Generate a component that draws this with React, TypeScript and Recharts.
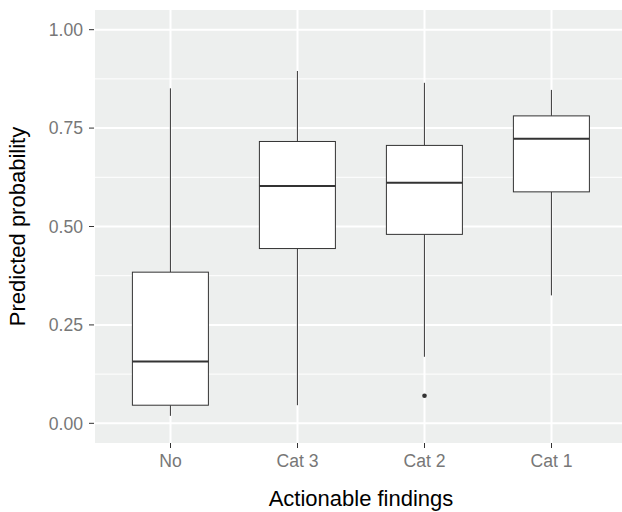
import React from 'react';
import { ComposedChart, Bar, Scatter, XAxis, YAxis, CartesianGrid } from 'recharts';

// box stats
const categories = ['No', 'Cat 3', 'Cat 2', 'Cat 1'];
const whiskerLow = [0.019, 0.046, 0.169, 0.325];
const lowerQuartile = [0.046, 0.444, 0.48, 0.588];
const medians = [0.157, 0.603, 0.611, 0.723];
const upperQuartile = [0.384, 0.716, 0.706, 0.781];
const whiskerHigh = [0.851, 0.895, 0.865, 0.847];
const outlierValues: (number | null)[] = [null, null, 0.07, null];

const yTicks = [0, 0.25, 0.5, 0.75, 1];
const yMinor = [0.125, 0.375, 0.625, 0.875];

const data = categories.map((cat, i) => ({
  cat,
  low: whiskerLow[i],
  q1: lowerQuartile[i],
  med: medians[i],
  q3: upperQuartile[i],
  high: whiskerHigh[i],
  outlier: outlierValues[i],
}));

const FONT = '"Liberation Sans", Arial, Helvetica, sans-serif';
const INK = '#333333';

const BoxShape = (props: any) => {
  const { x, y, width, height, payload } = props;
  if (x == null || y == null) return null;
  const top = Math.min(y, y + height);
  const bottom = Math.max(y, y + height);
  const span = payload.high - payload.low;
  // map a value into pixels using the range the bar was given by the y scale
  const py = (v: number) => bottom - ((v - payload.low) / span) * (bottom - top);
  const cx = x + width / 2;
  const yq1 = py(payload.q1);
  const yq3 = py(payload.q3);
  const ymed = py(payload.med);
  return (
    <g>
      <line x1={cx} x2={cx} y1={top} y2={yq3} stroke={INK} strokeWidth={1} />
      <line x1={cx} x2={cx} y1={yq1} y2={bottom} stroke={INK} strokeWidth={1} />
      <rect x={x} y={yq3} width={width} height={yq1 - yq3} fill="#ffffff" stroke={INK} strokeWidth={1} />
      <line x1={x} x2={x + width} y1={ymed} y2={ymed} stroke={INK} strokeWidth={2} />
    </g>
  );
};

const OutlierDot = (p: any) => {
  if (p.payload == null || p.payload.outlier == null || !isFinite(p.cy)) return null;
  return <circle cx={p.cx} cy={p.cy} r={2.3} fill={INK} />;
};

const App: React.FC = () => {
  return (
    <div
      style={{
        position: 'absolute',
        left: 0,
        top: 0,
        width: 622,
        height: 512,
        overflow: 'hidden',
        background: '#fff',
        fontFamily: FONT,
      }}
    >
      <ComposedChart
        width={628}
        height={512}
        data={data}
        margin={{ top: 10, right: 0, left: 0, bottom: 0 }}
        barCategoryGap="20%"
      >
        <CartesianGrid
          fill="#EDEFEE"
          stroke="#ffffff"
          strokeWidth={1}
          vertical={false}
          horizontalValues={yMinor}
        />
        <CartesianGrid
          stroke="#ffffff"
          strokeWidth={2}
          horizontalValues={yTicks}
        />
        <XAxis
          dataKey="cat"
          type="category"
          height={69}
          padding={{ left: 13, right: 13 }}
          axisLine={false}
          tickLine={{ stroke: INK, strokeWidth: 1 }}
          tickSize={5}
          tickMargin={7}
          tick={{ fill: '#777777', fontSize: 17.6, fontFamily: FONT }}
          label={{
            value: 'Actionable findings',
            position: 'insideBottom',
            offset: 6,
            fill: '#000000',
            fontSize: 22,
            fontFamily: FONT,
          }}
        />
        <YAxis
          type="number"
          domain={[-0.05, 1.05]}
          ticks={yTicks}
          width={94}
          allowDataOverflow
          axisLine={false}
          tickLine={{ stroke: INK, strokeWidth: 1 }}
          tickSize={5}
          tickMargin={6}
          tickFormatter={(v: number) => v.toFixed(2)}
          tick={{ fill: '#777777', fontSize: 17.6, fontFamily: FONT }}
          label={{
            value: 'Predicted probability',
            angle: -90,
            position: 'insideLeft',
            offset: 17,
            fill: '#000000',
            fontSize: 22,
            fontFamily: FONT,
            style: { textAnchor: 'middle' },
          }}
        />
        <Bar
          dataKey={(d: any) => [d.low, d.high]}
          shape={<BoxShape />}
          isAnimationActive={false}
        />
        <Scatter
          dataKey="outlier"
          fill={INK}
          isAnimationActive={false}
          shape={<OutlierDot />}
        />
      </ComposedChart>
    </div>
  );
};

export default App;
